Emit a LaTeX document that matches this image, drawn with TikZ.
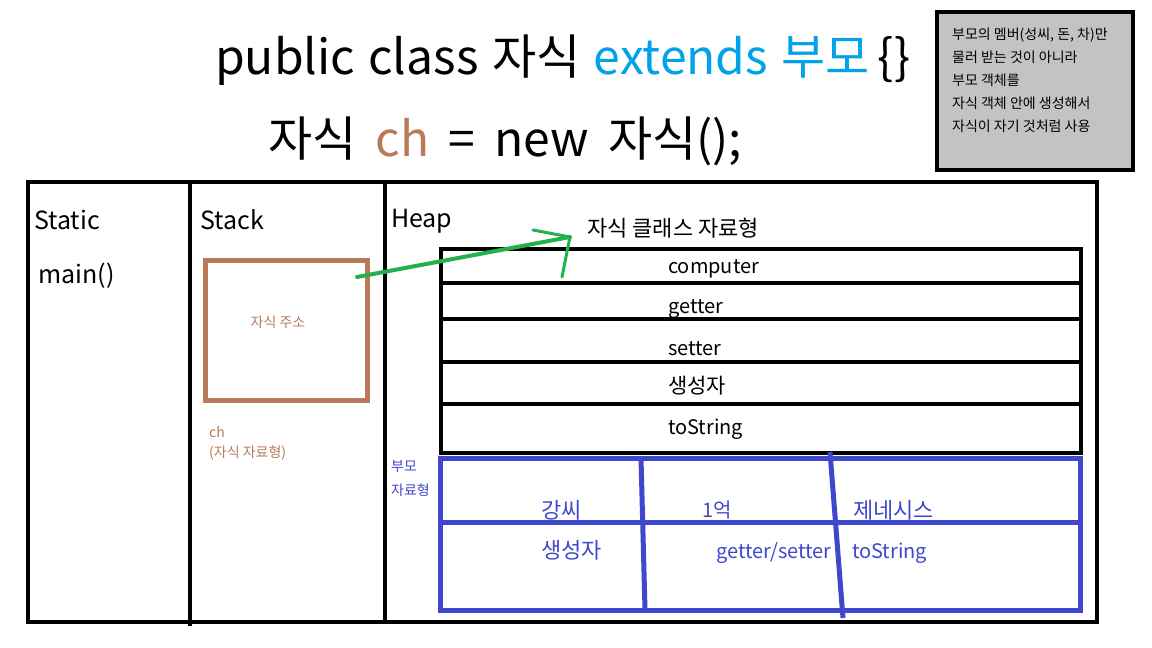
\documentclass[tikz,border=0pt]{standalone}
\usepackage{fontspec}
\setmainfont{Noto Sans CJK KR}
\usetikzlibrary{positioning}
\definecolor{extblue}{RGB}{0,162,232}
\definecolor{chbrown}{RGB}{185,122,87}
\definecolor{parentblue}{RGB}{63,72,204}
\definecolor{refgreen}{RGB}{34,177,76}
\definecolor{notegray}{RGB}{195,195,195}
\begin{document}
\begin{tikzpicture}[
x=1pt, y=-1pt,
wall/.style={line width=4.5pt},
rowline/.style={line width=3.5pt},
blueline/.style={draw=parentblue, line width=5pt},
area/.style={inner sep=0pt, anchor=west, font=\fontsize{25}{30}\selectfont},
member/.style={inner sep=0pt, anchor=west, font=\fontsize{20}{24}\selectfont},
parent/.style={member, text=parentblue},
note/.style={inner sep=0pt, anchor=west, font=\fontsize{14}{17}\selectfont},
code/.style={inner sep=0pt, anchor=west, font=\fontsize{48}{56}\selectfont},
ref/.style={draw=refgreen, line width=4pt, line cap=round, line join=round}
]
\useasboundingbox (0,0) rectangle (1152,648);
% the two lines of code
\node[code] (decl) at (215,60) {\spaceskip=0.28em public class 자식 \textcolor{extblue}{extends 부모}\,\{\}};
\node[code] (inst) at (268,141) {\spaceskip=0.4em 자식 \textcolor{chbrown}{ch} = new 자식();};
% note box
\draw[wall, fill=notegray] (937,12) rectangle (1133,170);
\node[note, anchor=north west, align=left, font=\fontsize{14}{23}\selectfont] (why) at (952,28) {부모의 멤버(성씨, 돈, 차)만\\물러 받는 것이 아니라\\부모 객체를\\자식 객체 안에 생성해서\\자식이 자기 것처럼 사용};
% memory areas
\draw[wall] (28,182) rectangle (1097,622);
\draw[wall] (190,182) -- (190,626);
\draw[wall] (385,182) -- (385,622);
\node[area] (static) at (34,220) {Static};
\node[area] (main) at (38,276) {main()};
\node[area] (stack) at (200,220) {Stack};
\node[area] (heap) at (391,221) {Heap};
% stack variable
\node[draw=chbrown, line width=5pt, minimum width=162, minimum height=140] (chbox) at (286.5,330.5) {};
\node[note, anchor=center, text=chbrown] (addr) at (278,322) {자식 주소};
\node[note, text=chbrown] (chname) at (209,432) {ch};
\node[note, text=chbrown] (chtype) at (209,453) {(자식 자료형)};
% child object
\node[member, font=\fontsize{22}{26}\selectfont] (childtype) at (587,228) {자식 클래스 자료형};
\draw[rowline] (441,249) rectangle (1081,453);
\draw[rowline] (441,283) -- (1081,283);
\draw[rowline] (441,319) -- (1081,319);
\draw[rowline] (441,362) -- (1081,362);
\draw[rowline] (441,404) -- (1081,404);
\node[member] (computer) at (668,269) {computer};
\node[member] (getter) at (668,309) {getter};
\node[member] (setter) at (668,349) {setter};
\node[member, font=\fontsize{21}{24}\selectfont] (ctor) at (668,386) {생성자};
\node[member] (tostr) at (668,429) {toString};
% parent object inside
\node[note, text=parentblue] (ptype1) at (391,467) {부모};
\node[note, text=parentblue] (ptype2) at (391,490) {자료형};
\draw[blueline] (440,458) rectangle (1080,610);
\draw[blueline] (440,522) -- (1080,522);
\draw[blueline] (641,458) -- (645,610);
\draw[blueline] (830,452) -- (843,618);
\node[parent, font=\fontsize{22}{26}\selectfont] (pname) at (541,510) {강씨};
\node[parent] (pmoney) at (702,510) {1억};
\node[parent, font=\fontsize{22}{26}\selectfont] (pcar) at (853,510) {제네시스};
\node[parent, font=\fontsize{22}{26}\selectfont] (pctor) at (541,550) {생성자};
\node[parent] (pget) at (716,553) {getter/setter};
\node[parent] (pstr) at (852,553) {toString};
% reference
\coordinate (from) at (357,277);
\coordinate (tip) at (570,237);
\coordinate (barb1) at (533,230);
\coordinate (barb2) at (562,277);
\draw[ref] (from) -- (tip);
\draw[ref, line width=3pt] (barb1) -- (tip) -- (barb2);
\end{tikzpicture}
\end{document}
